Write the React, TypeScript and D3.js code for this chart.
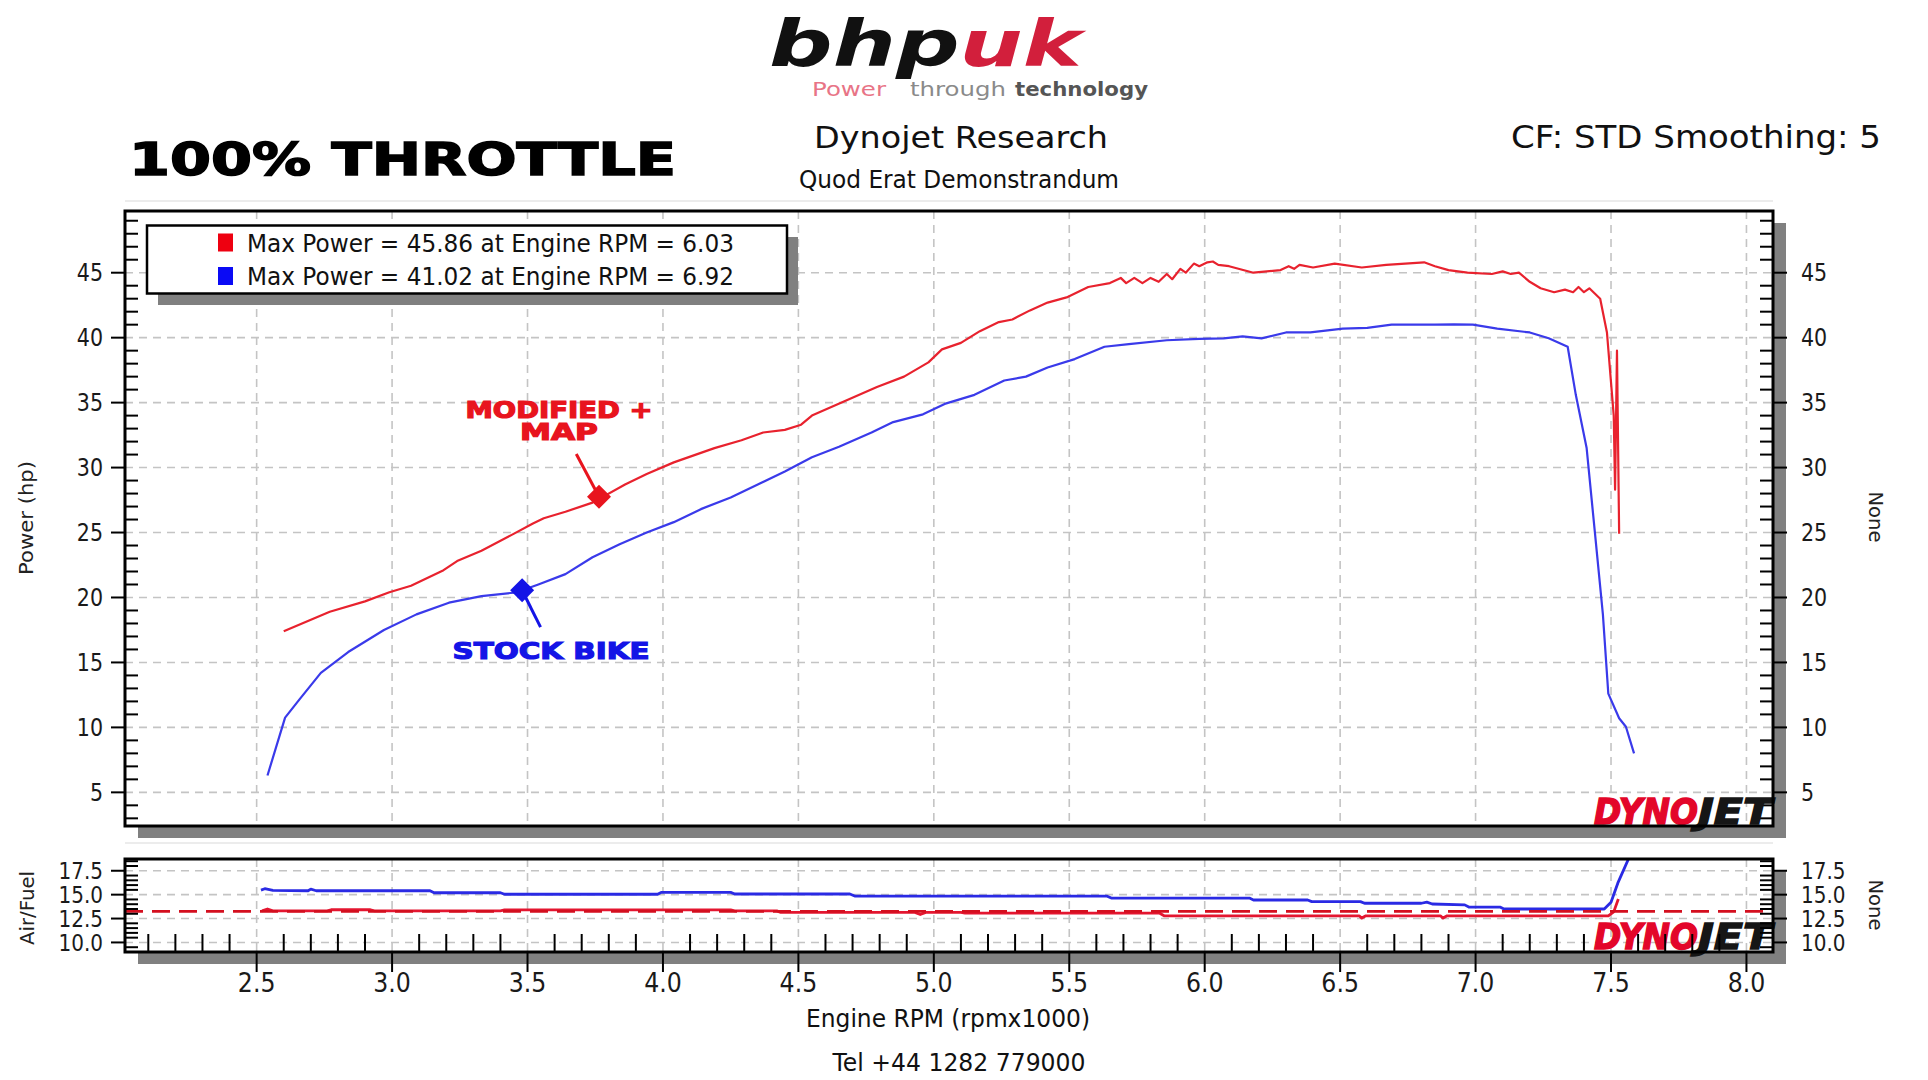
import React from "react";
import * as d3 from "d3";

const W = 1928;
const H = 1080;

// ---------- DATA ----------
// Modified + map (red) power curve: Engine RPM (x1000) and Power (hp)
const modRpm = [2.6, 2.77, 2.9, 2.99, 3.07, 3.19, 3.24, 3.33, 3.44, 3.52, 3.56, 3.64, 3.74, 3.86, 3.94, 4.04, 4.19, 4.29, 4.37, 4.45, 4.51, 4.55, 4.67, 4.79, 4.89, 4.98, 5.03, 5.1, 5.17, 5.24, 5.29, 5.355, 5.42, 5.49, 5.57, 5.65, 5.69, 5.71, 5.74, 5.77, 5.8, 5.83, 5.86, 5.88, 5.91, 5.93, 5.96, 5.98, 6.01, 6.03, 6.05, 6.09, 6.18, 6.28, 6.31, 6.33, 6.35, 6.4, 6.48, 6.58, 6.67, 6.81, 6.85, 6.9, 6.97, 7.06, 7.1, 7.13, 7.16, 7.2, 7.24, 7.29, 7.33, 7.36, 7.38, 7.4, 7.42, 7.44, 7.46, 7.485, 7.51, 7.515, 7.522, 7.53];
const modHp = [17.4, 18.9, 19.7, 20.4, 20.9, 22.1, 22.8, 23.6, 24.8, 25.7, 26.1, 26.6, 27.3, 28.7, 29.5, 30.4, 31.5, 32.1, 32.7, 32.9, 33.3, 34.0, 35.1, 36.2, 37.0, 38.1, 39.1, 39.6, 40.5, 41.2, 41.4, 42.1, 42.7, 43.1, 43.9, 44.2, 44.6, 44.2, 44.6, 44.2, 44.6, 44.3, 44.9, 44.5, 45.3, 45.0, 45.7, 45.5, 45.8, 45.86, 45.6, 45.5, 45.0, 45.2, 45.5, 45.3, 45.6, 45.4, 45.7, 45.4, 45.6, 45.8, 45.5, 45.2, 45.0, 44.9, 45.1, 44.9, 45.0, 44.3, 43.8, 43.5, 43.7, 43.5, 43.9, 43.5, 43.8, 43.4, 43.0, 40.4, 34.0, 28.3, 39.0, 24.9];

// Stock bike (blue) power curve
const stockRpm = [2.54, 2.605, 2.656, 2.737, 2.838, 2.97, 3.09, 3.21, 3.33, 3.46, 3.54, 3.64, 3.74, 3.84, 3.94, 4.04, 4.14, 4.25, 4.35, 4.45, 4.55, 4.65, 4.77, 4.85, 4.96, 5.04, 5.15, 5.26, 5.34, 5.42, 5.52, 5.63, 5.72, 5.86, 5.98, 6.07, 6.14, 6.21, 6.3, 6.39, 6.51, 6.6, 6.69, 6.85, 6.92, 6.99, 7.08, 7.2, 7.27, 7.34, 7.37, 7.41, 7.44, 7.47, 7.49, 7.53, 7.555, 7.585];
const stockHp = [6.3, 10.75, 12.1, 14.2, 15.8, 17.5, 18.7, 19.6, 20.1, 20.4, 21.0, 21.8, 23.1, 24.1, 25.0, 25.8, 26.8, 27.7, 28.7, 29.7, 30.8, 31.6, 32.7, 33.5, 34.1, 34.9, 35.6, 36.7, 37.0, 37.7, 38.35, 39.3, 39.5, 39.8, 39.9, 39.95, 40.1, 39.95, 40.4, 40.4, 40.7, 40.75, 41.0, 41.0, 41.02, 41.0, 40.7, 40.4, 39.95, 39.3, 35.6, 31.5, 25.1, 18.7, 12.6, 10.7, 10.05, 8.0];

// Air/Fuel, stock (blue)
const afStockRpm = [2.516, 2.53, 2.56, 2.69, 2.7, 2.72, 3.14, 3.155, 3.4, 3.415, 3.98, 3.995, 4.25, 4.265, 4.69, 4.71, 5.64, 5.655, 6.165, 6.18, 6.38, 6.395, 6.575, 6.59, 6.8, 6.82, 6.84, 6.96, 6.975, 7.09, 7.105, 7.475, 7.5, 7.525, 7.567];
const afStockVal = [15.48, 15.62, 15.45, 15.41, 15.58, 15.41, 15.41, 15.2, 15.2, 15.04, 15.04, 15.24, 15.24, 15.07, 15.07, 14.84, 14.84, 14.64, 14.64, 14.44, 14.44, 14.27, 14.27, 14.1, 14.1, 14.22, 14.02, 13.93, 13.7, 13.7, 13.5, 13.5, 14.2, 16.2, 18.9];

// Air/Fuel, modified + map (red)
const afModRpm = [2.52, 2.54, 2.56, 2.76, 2.775, 2.92, 2.935, 3.4, 3.415, 4.25, 4.265, 4.42, 4.435, 4.93, 4.95, 4.97, 5.1, 5.115, 5.834, 5.85, 6.57, 6.58, 6.595, 6.87, 6.88, 6.895, 7.49, 7.51, 7.527];
const afModVal = [13.3, 13.5, 13.3, 13.3, 13.42, 13.42, 13.3, 13.3, 13.4, 13.4, 13.3, 13.3, 13.14, 13.14, 12.92, 13.14, 13.14, 13.06, 13.06, 12.79, 12.79, 12.55, 12.79, 12.79, 12.55, 12.79, 12.79, 13.2, 14.54];

const afTarget = 13.25;

const rpmTicks = [2.5, 3.0, 3.5, 4.0, 4.5, 5.0, 5.5, 6.0, 6.5, 7.0, 7.5, 8.0];
const powerTicks = [5, 10, 15, 20, 25, 30, 35, 40, 45];
const afTicks = [10.0, 12.5, 15.0, 17.5];

const legendLabels = [
  "Max Power = 45.86 at Engine RPM = 6.03",
  "Max Power = 41.02 at Engine RPM = 6.92",
];

// annotation markers (data coordinates)
const markerRpm = [3.764, 3.48];
const markerHp = [27.75, 20.56];
const annoText = [["MODIFIED +", "MAP"], ["STOCK BIKE"]];
const annoRpm = [3.616, 3.587];
const annoHp = [33.85, 15.3];
const leaderRpm = [3.68, 3.548];
const leaderHp = [31.05, 17.72];

// ---------- STYLE ----------
const FONT = "'DejaVu Sans', Verdana, sans-serif";
const RED = "#e8222e";
const BLUE = "#3a3aea";
const GRID = "#c4c4c4";
const SHADOW = "#808080";

const L = 125, R = 1773;
const MT = 211, MB = 826;
const AT = 859, AB = 952;

function tw(s: string, fs: number) {
  let w = 0;
  for (const c of s) {
    if (c >= "0" && c <= "9") w += 0.546;
    else if (c === ".") w += 0.3;
    else w += 0.55;
  }
  return w * fs;
}

const x = d3.scaleLinear().domain([2.014, 8.098]).range([L, R]);
const yP = d3.scaleLinear().domain([2.41, 49.75]).range([MB, MT]);
const yA = d3.scaleLinear().domain([9.0, 18.73]).range([AB, AT]);

function Logo({ left, base }: { left: number; base: number }) {
  return (
    <g>
      <text x={left} y={base} fontFamily={FONT} fontWeight="bold" fontStyle="italic" fontSize={36}
        fill="#e3062a" stroke="#e3062a" strokeWidth={1.5}
        textLength={104} lengthAdjust="spacingAndGlyphs">DYNO</text>
      <text x={left + 104} y={base} fontFamily={FONT} fontWeight="bold" fontStyle="italic" fontSize={36}
        fill="#161616" stroke="#161616" strokeWidth={1.5}
        textLength={74} lengthAdjust="spacingAndGlyphs">JET</text>
    </g>
  );
}

export default function App() {
  const fmt1 = d3.format(".1f");
  const lineP = d3
    .line<[number, number]>()
    .x((d) => x(d[0]))
    .y((d) => yP(d[1]));
  const lineA = d3
    .line<[number, number]>()
    .x((d) => x(d[0]))
    .y((d) => yA(d[1]));

  const modPts = modRpm.map((r, i) => [r, modHp[i]] as [number, number]);
  const stockPts = stockRpm.map((r, i) => [r, stockHp[i]] as [number, number]);
  const afS = afStockRpm.map((r, i) => [r, afStockVal[i]] as [number, number]);
  const afM = afModRpm.map((r, i) => [r, afModVal[i]] as [number, number]);
  const dom = x.domain();

  const minorP = d3.range(3, 50).filter((v) => v % 5 !== 0);
  const minorA = d3.range(9.5, 18.75, 0.5).filter((v) => Math.abs(v % 2.5) > 1e-6);
  const minorX = d3.range(21, 81).map((v) => v / 10).filter((v) => Math.round(v * 10) % 5 !== 0);

  const diamond = (cx: number, cy: number, s: number) =>
    `M${cx - s},${cy}L${cx},${cy - s}L${cx + s},${cy}L${cx},${cy + s}Z`;

  return (
    <svg
      width={W}
      height={H}
      viewBox={`0 0 ${W} ${H}`}
      style={{ position: "absolute", left: 0, top: 0, background: "#fff" }}
    >
      <defs>
        <clipPath id="clipP">
          <rect x={L} y={MT} width={R - L} height={MB - MT} />
        </clipPath>
        <clipPath id="clipA">
          <rect x={L} y={AT} width={R - L} height={AB - AT} />
        </clipPath>
      </defs>
      <rect width={W} height={H} fill="#fff" />

      {/* ----- Header ----- */}
      <text x={769} y={66} fontFamily={FONT} fontWeight="bold" fontStyle="italic" fontSize={64}
        textLength={313} lengthAdjust="spacingAndGlyphs">
        <tspan fill="#111">bhp</tspan>
        <tspan fill="#d21f3c">uk</tspan>
      </text>
      <text x={812} y={96} fontFamily={FONT} fontSize={19} fill="#e87486" textLength={74} lengthAdjust="spacingAndGlyphs">Power</text>
      <text x={910} y={96} fontFamily={FONT} fontSize={19} fill="#8a8a8a" textLength={96} lengthAdjust="spacingAndGlyphs">through</text>
      <text x={1015} y={96} fontFamily={FONT} fontSize={19} fontWeight="bold" fill="#555" textLength={133} lengthAdjust="spacingAndGlyphs">technology</text>

      <text x={129} y={175} fontFamily={FONT} fontWeight="bold" fontSize={44} fill="#000" stroke="#000" strokeWidth={1.5}
        textLength={547} lengthAdjust="spacingAndGlyphs">100% THROTTLE</text>

      <text x={961} y={148} textAnchor="middle" fontFamily={FONT} fontSize={31} fill="#111"
        textLength={294} lengthAdjust="spacingAndGlyphs">Dynojet Research</text>
      <text x={959} y={188} textAnchor="middle" fontFamily={FONT} fontSize={24} fill="#111"
        textLength={320} lengthAdjust="spacingAndGlyphs">Quod Erat Demonstrandum</text>
      <text x={1511} y={148} fontFamily={FONT} fontSize={32} fill="#111"
        textLength={370} lengthAdjust="spacingAndGlyphs">CF: STD Smoothing: 5</text>

      {/* separators */}
      <line x1={L} x2={R} y1={201} y2={201} stroke="#ececec" strokeWidth={2} />
      <line x1={L} x2={R} y1={843} y2={843} stroke="#ececec" strokeWidth={2} />

      {/* ----- Main power panel ----- */}
      <rect x={L + 13} y={MT + 12} width={R - L} height={MB - MT} fill={SHADOW} />
      <rect x={L} y={MT} width={R - L} height={MB - MT} fill="#fff" />
      {rpmTicks.map((t) => (
        <line key={"gv" + t} x1={x(t)} x2={x(t)} y1={MT} y2={MB} stroke={GRID} strokeWidth={1.6} strokeDasharray="8,6" />
      ))}
      {powerTicks.map((t) => (
        <line key={"gh" + t} x1={L} x2={R} y1={yP(t)} y2={yP(t)} stroke={GRID} strokeWidth={1.6} strokeDasharray="8,6" />
      ))}

      <g clipPath="url(#clipP)">
        <path d={lineP(stockPts) || ""} fill="none" stroke={BLUE} strokeWidth={2.2} strokeLinejoin="round" />
        <path d={lineP(modPts) || ""} fill="none" stroke={RED} strokeWidth={2.2} strokeLinejoin="round" />
      </g>

      {/* minor ticks inside, major outside */}
      {minorP.map((t) => (
        <g key={"mp" + t}>
          <line x1={L} x2={L + 13} y1={yP(t)} y2={yP(t)} stroke="#000" strokeWidth={2} />
          <line x1={R - 13} x2={R} y1={yP(t)} y2={yP(t)} stroke="#000" strokeWidth={2} />
        </g>
      ))}
      {powerTicks.map((t) => (
        <g key={"Mp" + t}>
          <line x1={L - 14} x2={L} y1={yP(t)} y2={yP(t)} stroke="#000" strokeWidth={2} />
          <line x1={R} x2={R + 14} y1={yP(t)} y2={yP(t)} stroke="#000" strokeWidth={2} />
          <text x={103} y={yP(t) + 8.6} textAnchor="end" fontFamily={FONT} fontSize={24} fill="#1a1a1a"
            textLength={tw(String(t), 24)} lengthAdjust="spacingAndGlyphs">{String(t)}</text>
          <text x={1801} y={yP(t) + 8.6} textAnchor="start" fontFamily={FONT} fontSize={24} fill="#1a1a1a"
            textLength={tw(String(t), 24)} lengthAdjust="spacingAndGlyphs">{String(t)}</text>
        </g>
      ))}

      {/* Legend */}
      <rect x={158} y={237} width={640} height={68} fill={SHADOW} />
      <rect x={147} y={225.5} width={640} height={68} fill="#fff" stroke="#000" strokeWidth={2.5} />
      {legendLabels.map((lab, i) => (
        <g key={"lg" + i}>
          <rect x={218} y={233.5 + i * 33.5} width={15} height={18} fill={i === 0 ? "#ee0010" : "#0a0af5"} />
          <text x={247} y={251.5 + i * 33.5} fontFamily={FONT} fontSize={25} fill="#111"
            textLength={487} lengthAdjust="spacingAndGlyphs">{lab}</text>
        </g>
      ))}

      {/* Annotations */}
      {annoText.map((lines, i) => {
        const col = i === 0 ? "#e8141e" : "#1414e6";
        const widths = i === 0 ? [187, 78] : [197];
        return (
          <g key={"an" + i}>
            <line x1={x(leaderRpm[i])} y1={yP(leaderHp[i])} x2={x(markerRpm[i])} y2={yP(markerHp[i])}
              stroke={col} strokeWidth={3} />
            <path d={diamond(x(markerRpm[i]), yP(markerHp[i]), 12)} fill={col} />
            {lines.map((s, j) => (
              <text key={j} x={x(annoRpm[i])} y={yP(annoHp[i]) + j * 22} textAnchor="middle"
                fontFamily={FONT} fontWeight="bold" fontSize={23} fill={col} stroke={col} strokeWidth={1.2}
                textLength={widths[j]} lengthAdjust="spacingAndGlyphs">{s}</text>
            ))}
          </g>
        );
      })}

      <Logo left={1594} base={824} />
      <rect x={L} y={MT} width={R - L} height={MB - MT} fill="none" stroke="#000" strokeWidth={3} />

      {/* Axis titles main */}
      <text transform={`translate(33,518) rotate(-90)`} textAnchor="middle" fontFamily={FONT} fontSize={20} fill="#222"
        textLength={114} lengthAdjust="spacingAndGlyphs">Power (hp)</text>
      <text transform={`translate(1869,517) rotate(90)`} textAnchor="middle" fontFamily={FONT} fontSize={20} fill="#222"
        textLength={51} lengthAdjust="spacingAndGlyphs">None</text>

      {/* ----- Air/Fuel panel ----- */}
      <rect x={L + 13} y={AT + 12} width={R - L} height={AB - AT} fill={SHADOW} />
      <rect x={L} y={AT} width={R - L} height={AB - AT} fill="#fff" />
      {rpmTicks.map((t) => (
        <line key={"agv" + t} x1={x(t)} x2={x(t)} y1={AT} y2={AB} stroke={GRID} strokeWidth={1.6} strokeDasharray="8,6" />
      ))}
      {afTicks.map((t) => (
        <line key={"agh" + t} x1={L} x2={R} y1={yA(t)} y2={yA(t)} stroke={GRID} strokeWidth={1.6} strokeDasharray="8,6" />
      ))}
      <Logo left={1594} base={949} />
      <g clipPath="url(#clipA)">
        <path d={lineA(afS) || ""} fill="none" stroke="#2a2ae4" strokeWidth={2.8} strokeLinejoin="round" />
        <path d={lineA(afM) || ""} fill="none" stroke="#e41630" strokeWidth={2.8} strokeLinejoin="round" />
        <path d={lineA([[dom[0], afTarget], [dom[1], afTarget]]) || ""} fill="none" stroke="#d40f1f"
          strokeWidth={2.6} strokeDasharray="18,9" />
      </g>
      {minorA.map((t) => (
        <g key={"ma" + t}>
          <line x1={L} x2={L + 13} y1={yA(t)} y2={yA(t)} stroke="#000" strokeWidth={2} />
          <line x1={R - 13} x2={R} y1={yA(t)} y2={yA(t)} stroke="#000" strokeWidth={2} />
        </g>
      ))}
      {afTicks.map((t) => (
        <g key={"Ma" + t}>
          <line x1={L - 14} x2={L} y1={yA(t)} y2={yA(t)} stroke="#000" strokeWidth={2} />
          <line x1={R} x2={R + 14} y1={yA(t)} y2={yA(t)} stroke="#000" strokeWidth={2} />
          <text x={103} y={yA(t) + 8.3} textAnchor="end" fontFamily={FONT} fontSize={23} fill="#1a1a1a"
            textLength={tw(fmt1(t), 23)} lengthAdjust="spacingAndGlyphs">{fmt1(t)}</text>
          <text x={1801} y={yA(t) + 8.3} textAnchor="start" fontFamily={FONT} fontSize={23} fill="#1a1a1a"
            textLength={tw(fmt1(t), 23)} lengthAdjust="spacingAndGlyphs">{fmt1(t)}</text>
        </g>
      ))}
      {minorX.map((t) => (
        <line key={"mx" + t} x1={x(t)} x2={x(t)} y1={AB - 18} y2={AB} stroke="#000" strokeWidth={2} />
      ))}
      <rect x={L} y={AT} width={R - L} height={AB - AT} fill="none" stroke="#000" strokeWidth={3} />
      {rpmTicks.map((t) => (
        <g key={"xt" + t}>
          <line x1={x(t)} x2={x(t)} y1={AB} y2={AB + 20} stroke="#000" strokeWidth={2} />
          <text x={x(t)} y={992} textAnchor="middle" fontFamily={FONT} fontSize={27} fill="#1a1a1a"
            textLength={tw(fmt1(t), 27)} lengthAdjust="spacingAndGlyphs">{fmt1(t)}</text>
        </g>
      ))}

      <text transform={`translate(34,908) rotate(-90)`} textAnchor="middle" fontFamily={FONT} fontSize={20} fill="#222"
        textLength={74} lengthAdjust="spacingAndGlyphs">Air/Fuel</text>
      <text transform={`translate(1869,905) rotate(90)`} textAnchor="middle" fontFamily={FONT} fontSize={20} fill="#222"
        textLength={51} lengthAdjust="spacingAndGlyphs">None</text>

      <text x={948} y={1027} textAnchor="middle" fontFamily={FONT} fontSize={25} fill="#111"
        textLength={284} lengthAdjust="spacingAndGlyphs">Engine RPM (rpmx1000)</text>
      <text x={959} y={1071} textAnchor="middle" fontFamily={FONT} fontSize={24} fill="#111"
        textLength={253} lengthAdjust="spacingAndGlyphs">Tel +44 1282 779000</text>
    </svg>
  );
}
